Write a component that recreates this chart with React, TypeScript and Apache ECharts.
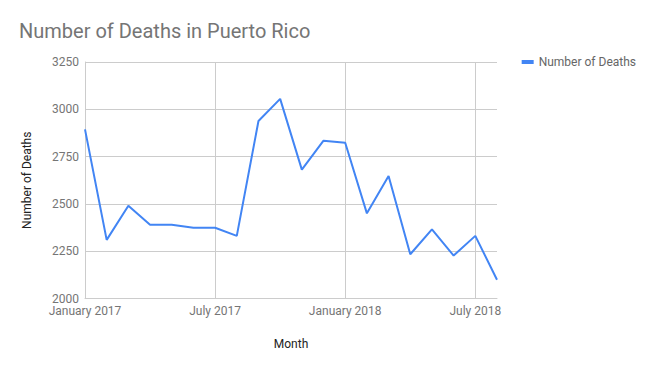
import React, { useEffect, useRef } from "react";
import * as echarts from "echarts";

const months = [
  "January 2017", "February 2017", "March 2017", "April 2017", "May 2017", "June 2017",
  "July 2017", "August 2017", "September 2017", "October 2017", "November 2017", "December 2017",
  "January 2018", "February 2018", "March 2018", "April 2018", "May 2018", "June 2018",
  "July 2018", "August 2018",
];
const deaths = [
  2894, 2310, 2490, 2390, 2390, 2374, 2374, 2331, 2938, 3055, 2681, 2834,
  2823, 2450, 2648, 2234, 2365, 2227, 2331, 2099,
];
const yMin = 2000;
const yMax = 3250;
const yStep = 250;

export default function App() {
  const ref = useRef<HTMLDivElement>(null);
  useEffect(() => {
    if (!ref.current) return;
    const chart = echarts.init(ref.current, undefined, { renderer: "svg" });
    const font = "Roboto";
    chart.setOption({
      animation: false,
      backgroundColor: "#ffffff",
      textStyle: { fontFamily: font },
      title: {
        text: "Number of Deaths in Puerto Rico",
        left: 19,
        top: 21,
        padding: 0,
        textStyle: { fontFamily: font, fontSize: 20, fontWeight: "normal", color: "#757575" },
      },
      legend: {
        right: 19,
        top: 56,
        padding: 0,
        itemWidth: 12,
        itemHeight: 4,
        itemGap: 8,
        icon: "rect",
        textStyle: { fontFamily: font, fontSize: 12, color: "#666666" },
        data: ["Number of Deaths"],
      },
      grid: { left: 85, right: 158, top: 62, bottom: 72.5, containLabel: false },
      xAxis: {
        type: "category",
        data: months,
        boundaryGap: false,
        name: "Month",
        nameLocation: "middle",
        nameGap: 39,
        nameTextStyle: { fontFamily: font, fontSize: 12, color: "#222222" },
        axisLine: { show: true, lineStyle: { color: "#cccccc", width: 1 } },
        axisTick: { show: false },
        axisLabel: {
          interval: (i: number) => i % 6 === 0,
          fontFamily: font,
          fontSize: 12,
          color: "#757575",
          margin: 6,
        },
        splitLine: {
          show: true,
          interval: (i: number) => i % 6 === 0 && i > 0,
          lineStyle: { color: "#cccccc", width: 1 },
        },
      },
      yAxis: {
        type: "value",
        min: yMin,
        max: yMax,
        interval: yStep,
        name: "Number of Deaths",
        nameLocation: "middle",
        nameGap: 52,
        nameTextStyle: { fontFamily: font, fontSize: 12, color: "#222222" },
        axisLine: { show: true, lineStyle: { color: "#cccccc", width: 1 } },
        axisTick: { show: false },
        axisLabel: {
          fontFamily: font,
          fontSize: 12,
          color: "#757575",
          margin: 6,
          formatter: (v: number) => String(v),
        },
        splitLine: { show: true, lineStyle: { color: "#cccccc", width: 1 } },
      },
      series: [
        {
          name: "Number of Deaths",
          type: "line",
          data: deaths,
          showSymbol: false,
          symbol: "none",
          color: "#4285f4",
          lineStyle: { color: "#4285f4", width: 2 },
        },
      ],
    });
    return () => chart.dispose();
  }, []);
  return <div ref={ref} style={{ width: 655, height: 371, position: "absolute", left: 0, top: 0 }} />;
}
